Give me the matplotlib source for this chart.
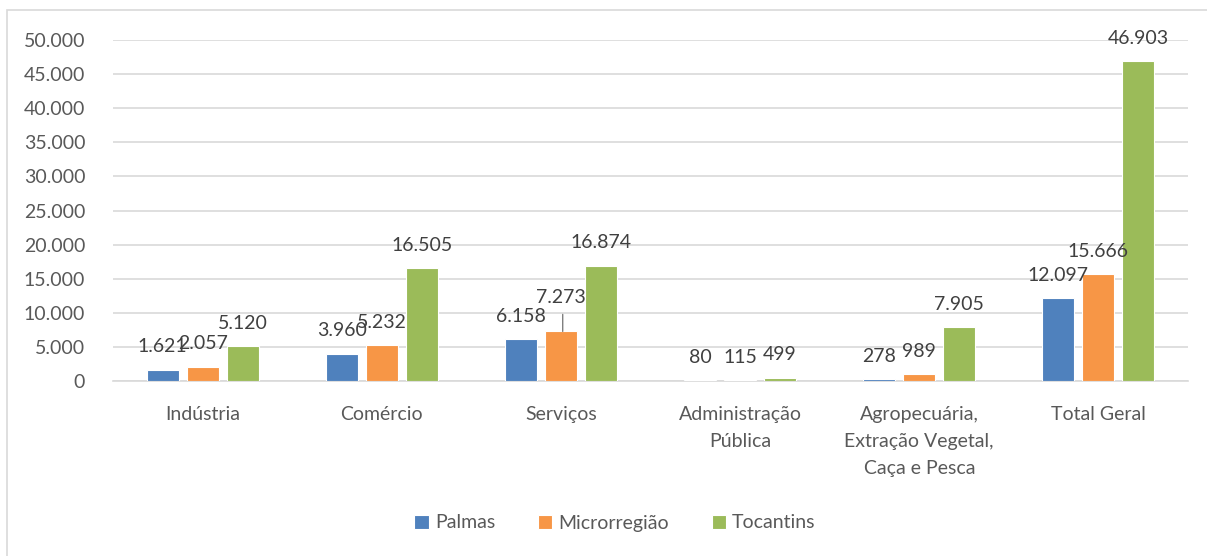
import numpy as np
import matplotlib
matplotlib.use("Agg")
import matplotlib.pyplot as plt
from matplotlib.patches import Rectangle
from matplotlib.ticker import FuncFormatter

# dados
categorias = ["Indústria", "Comércio", "Serviços", "Administração\nPública",
              "Agropecuária,\nExtração Vegetal,\nCaça e Pesca", "Total Geral"]
series = ["Palmas", "Microrregião", "Tocantins"]
palmas = [1621, 3960, 6158, 80, 278, 12097]
microrregiao = [2057, 5232, 7273, 115, 989, 15666]
tocantins = [5120, 16505, 16874, 499, 7905, 46903]
cores = ["#4F81BD", "#F79646", "#9BBB59"]

plt.rcParams["font.family"] = ["Lato", "DejaVu Sans"]

W, H = 1207, 556
fig = plt.figure(figsize=(W / 100, H / 100), dpi=100)
ax = fig.add_axes([113 / W, 1 - 381 / H, (1188 - 113) / W, (381 - 40) / H])

# moldura do gráfico
fig.patches.append(Rectangle((7 / W, -0.1), 2, 1.1 - 10 / H, transform=fig.transFigure,
                             fill=False, edgecolor="#D9D9D9", linewidth=1.2))

def fmt(v):
    return f"{v:,.0f}".replace(",", ".")

x = np.arange(len(categorias))
largura = 0.179
passo = 0.2235
valores = [palmas, microrregiao, tocantins]
for i, (nome, vals, cor) in enumerate(zip(series, valores, cores)):
    pos = x + (i - 1) * passo
    ax.bar(pos, vals, width=largura, color=cor, edgecolor="white", linewidth=0.8,
           label=nome, zorder=3)
    for j, (px, v) in enumerate(zip(pos, vals)):
        extra = 11 if (i == 1 and j == 2) else 0
        ax.annotate(fmt(v), (px, v), xytext=(0, 23 + extra), textcoords="offset pixels",
                    ha="center", va="center", fontsize=14, color="#404040", zorder=4)

# linha de chamada do 7.273
px = x[2] + 0.01
ax.annotate("", xy=(px, microrregiao[2]), xytext=(0, 17), textcoords="offset pixels",
            arrowprops=dict(arrowstyle="-", color="#7F7F7F", lw=1, shrinkA=0, shrinkB=0))

ax.set_ylim(0, 50000)
ax.set_xlim(-0.5, len(categorias) - 0.5)
ax.set_yticks(np.arange(0, 50001, 5000))
ax.yaxis.set_major_formatter(FuncFormatter(lambda v, p: fmt(v)))
ax.set_xticks(x)
ax.set_xticklabels(categorias, linespacing=1.7, va="top")
ax.tick_params(axis="y", length=0, pad=20, labelsize=14, labelcolor="#595959")
ax.tick_params(axis="x", length=0, pad=18, labelsize=14, labelcolor="#595959")
ax.grid(axis="y", color="#D9D9D9", linewidth=1.2, zorder=0)
for s in ["top", "right", "left"]:
    ax.spines[s].set_visible(False)
ax.spines["bottom"].set_color("#D9D9D9")
ax.spines["bottom"].set_linewidth(1.2)

leg = fig.legend(loc="center", bbox_to_anchor=(615 / W, 1 - 523 / H), ncol=3, frameon=False,
                 fontsize=14, handlelength=0.75, handleheight=0.75, handletextpad=0.3,
                 columnspacing=2.2)
for t in leg.get_texts():
    t.set_color("#595959")

fig.savefig("out.png", dpi=100)
